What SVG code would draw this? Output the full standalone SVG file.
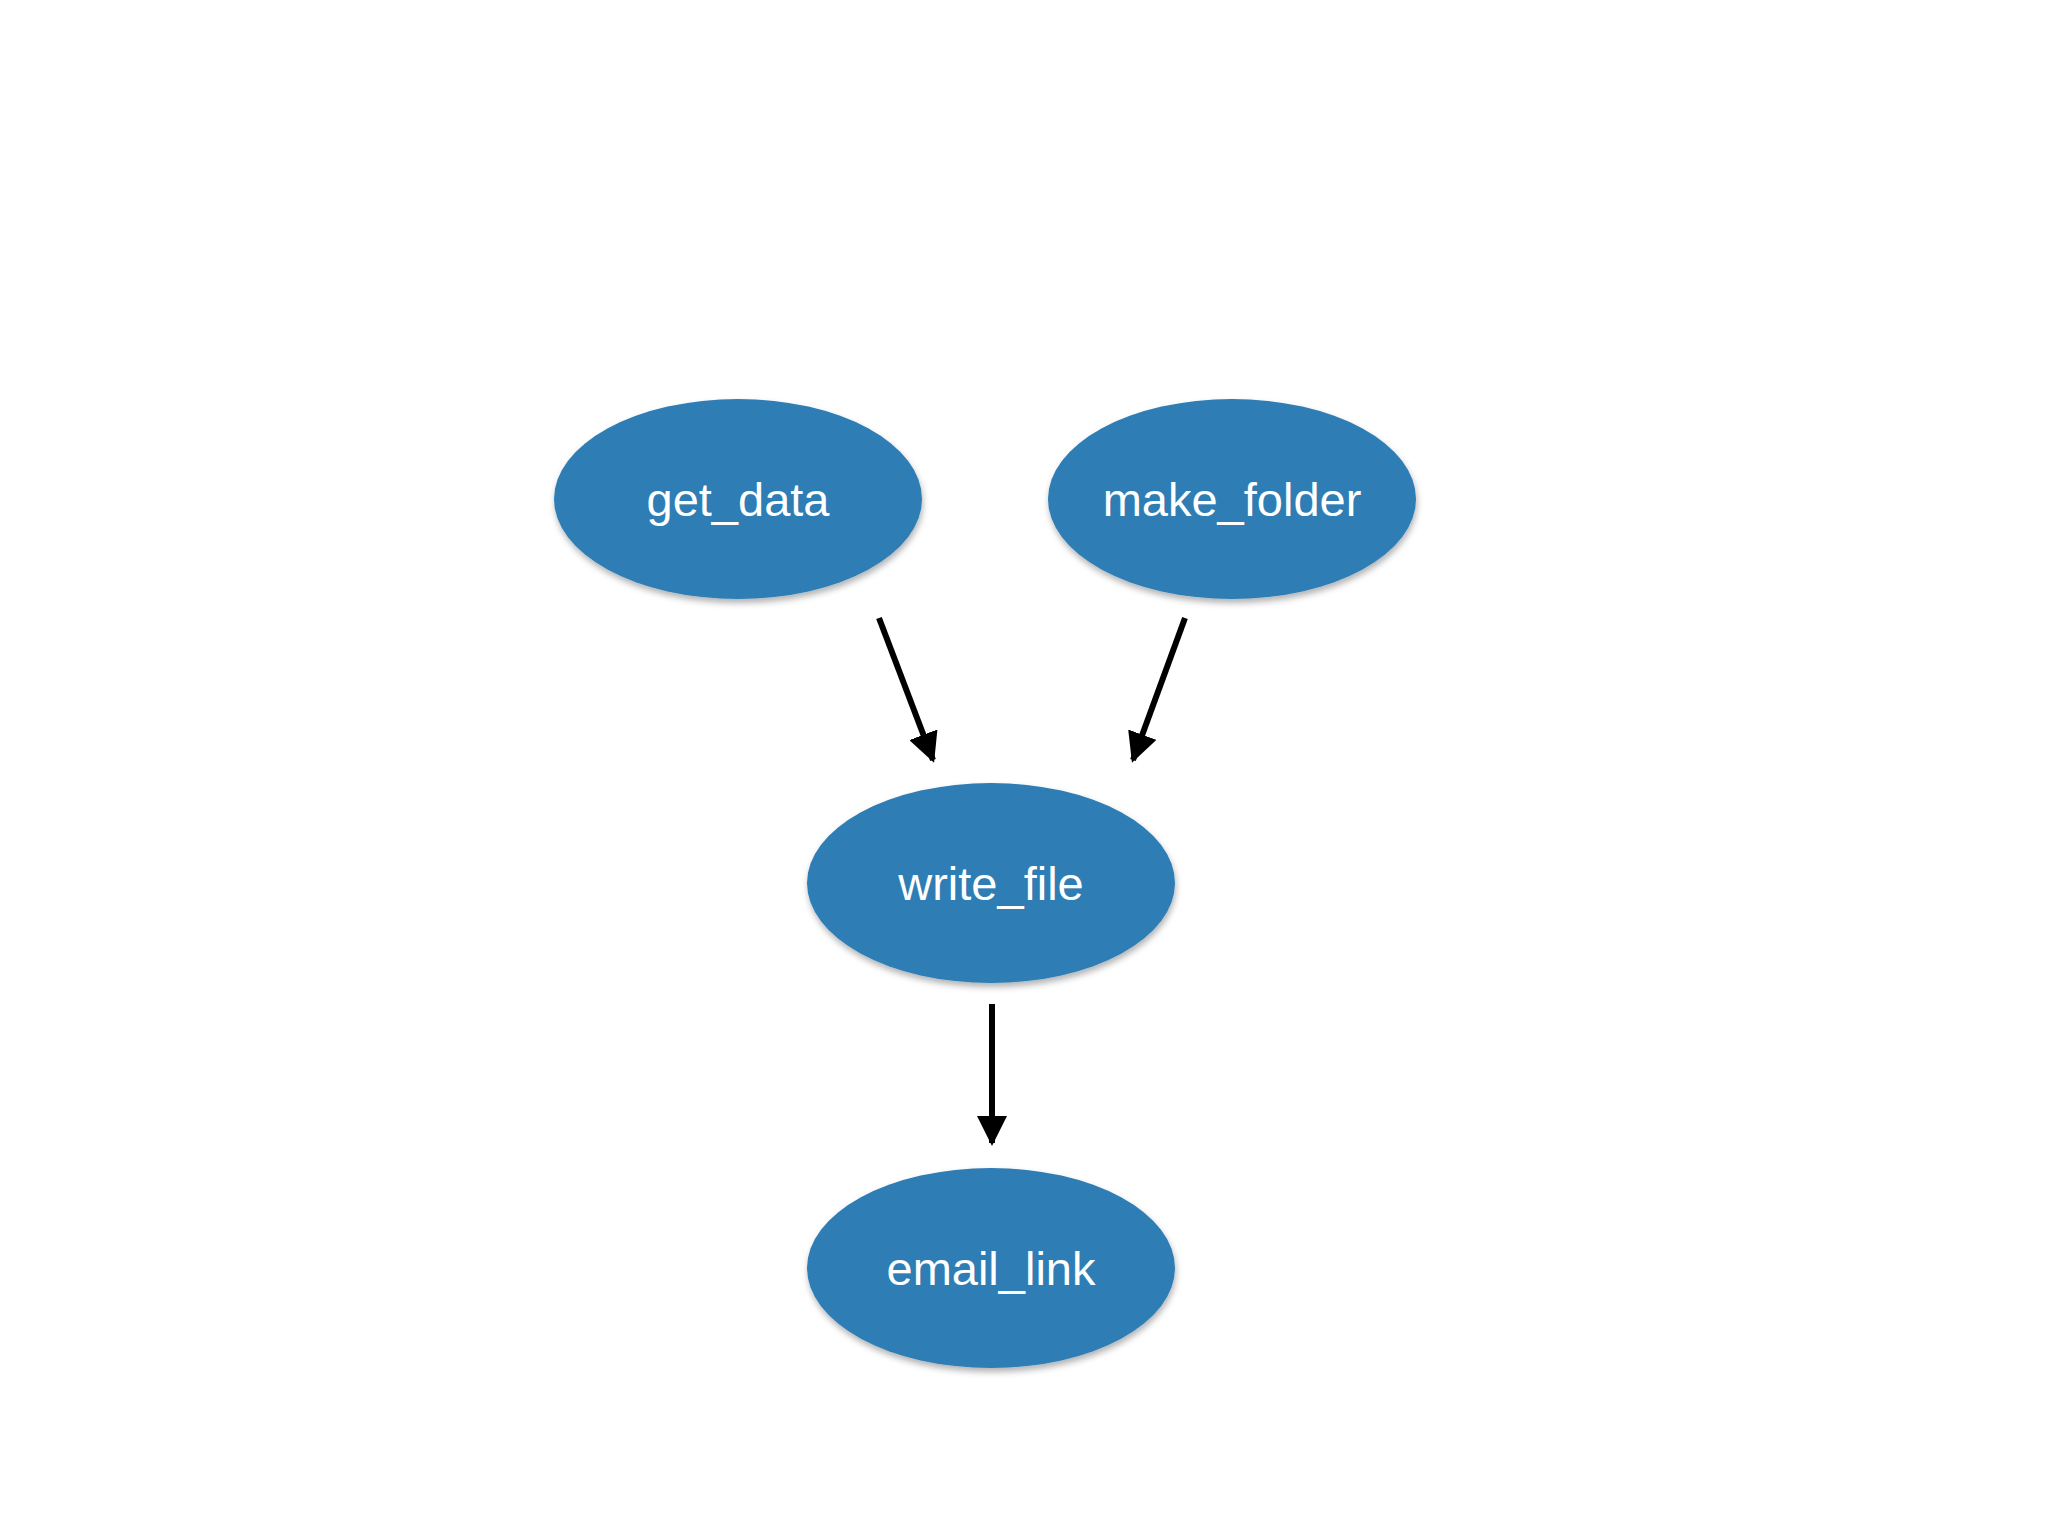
<svg xmlns="http://www.w3.org/2000/svg" width="2048" height="1536" viewBox="0 0 2048 1536">
<style>
.n{fill:#2f7db4;filter:url(#sh)}
.t{font-family:"Liberation Sans",Arial,sans-serif;font-size:47px;fill:#fff;text-anchor:middle;dominant-baseline:central}
.c{stroke:#000;stroke-width:6;fill:none;marker-end:url(#ah)}
</style>
<defs>
<filter id="sh" x="-10%" y="-10%" width="120%" height="130%"><feDropShadow dx="1" dy="4" stdDeviation="3" flood-color="#000" flood-opacity="0.3"/></filter>
<marker id="ah" viewBox="0 0 10 10" refX="9" refY="5" markerWidth="5" markerHeight="5" orient="auto" markerUnits="strokeWidth"><path d="M0,0 L10,5 L0,10 z" fill="#000"/></marker>
</defs>
<rect width="2048" height="1536" fill="#fff"/>
<g id="get_data"><ellipse class="n" cx="738" cy="499" rx="184" ry="100"/><text class="t" x="738" y="499">get_data</text></g>
<g id="make_folder"><ellipse class="n" cx="1232" cy="499" rx="184" ry="100"/><text class="t" x="1232" y="499">make_folder</text></g>
<g id="write_file"><ellipse class="n" cx="991" cy="883" rx="184" ry="100"/><text class="t" x="991" y="883">write_file</text></g>
<g id="email_link"><ellipse class="n" cx="991" cy="1268" rx="184" ry="100"/><text class="t" x="991" y="1268">email_link</text></g>
<g id="connectors">
<line class="c" x1="879" y1="618" x2="933" y2="760"/>
<line class="c" x1="1185" y1="618" x2="1133" y2="760"/>
<line class="c" x1="992" y1="1004" x2="992" y2="1143"/>
</g>
</svg>
